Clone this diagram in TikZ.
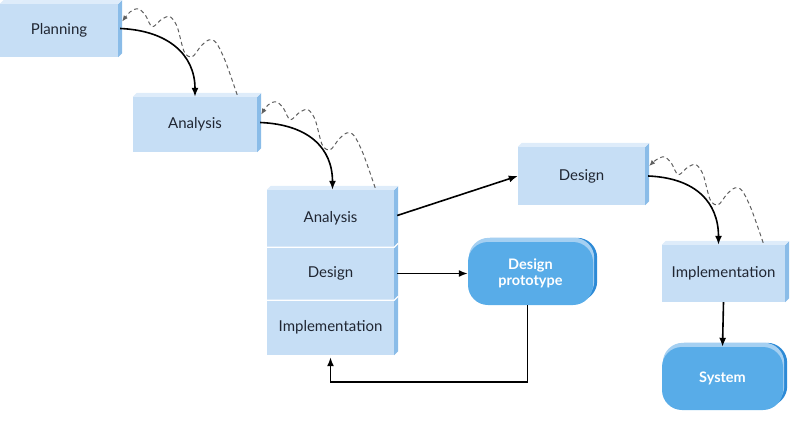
\documentclass[tikz,border=0pt]{standalone}
\usepackage{fontspec}
\setmainfont{Lato}
\usetikzlibrary{arrows.meta,calc,backgrounds}
\definecolor{boxfront}{RGB}{198,222,245}
\definecolor{boxside}{RGB}{138,188,232}
\definecolor{boxtop}{RGB}{222,236,250}
\definecolor{pillfront}{RGB}{88,172,232}
\definecolor{pillside}{RGB}{45,138,214}
\definecolor{pilltop}{RGB}{165,208,242}
\definecolor{txt}{RGB}{32,38,50}
\tikzset{
  stagebox/.style={fill=boxfront, text=txt, inner sep=0pt, font=\fontsize{15}{17}\selectfont},
  pill/.style={fill=pillfront, text=white, inner sep=0pt, rounded corners=20pt, align=center,
    font=\fontsize{14.5}{16}\selectfont\bfseries},
  flow/.style={-{Latex[length=9pt,width=7pt]}, line width=1.6pt, black},
  wavyline/.style={-{Latex[length=6pt,width=5pt]}, line width=1pt, gray!75!black, dash pattern=on 4pt off 3pt},
}
\newcommand\bevelbox[1]{%
  \fill[boxside] (#1.north east) -- ++(4,-4) -- ($(#1.south east)+(4,-4)$) -- (#1.south east) -- cycle;
  \fill[boxtop] (#1.north west) -- ++(4,-4) -- ($(#1.north east)+(4,-4)$) -- (#1.north east) -- cycle;}
\newcommand\pillshade[1]{%
  \begin{scope}[on background layer]
    \fill[pillside, rounded corners=20pt] ($(#1.south west)+(4,-4)$) rectangle ($(#1.north east)+(4,-4)$);
    \fill[pilltop, rounded corners=20pt] ($(#1.south west)+(1,-4)$) rectangle ($(#1.north east)+(1,-4)$);
  \end{scope}}
\newcommand\wavy[2]{%
  \draw[wavyline] plot[smooth, tension=0.5] coordinates {(#1) ($(#1)+(-12,-34)$) ($(#1)+(-21,-52)$)
    ($(#1)+(-28,-55)$) ($(#1)+(-36,-49)$) ($(#1)+(-45,-38)$) ($(#1)+(-53,-43)$) ($(#1)+(-60,-68)$)
    ($(#1)+(-67,-78)$) ($(#1)+(-75,-76)$) ($(#1)+(-85,-68)$) ($(#1)+(-92,-80)$) ($(#1)+(-99,-86)$)
    ($(#1)+(-107,-83)$) (#2)};}
\begin{document}
\begin{tikzpicture}[x={(1pt,0pt)}, y={(0pt,-1pt)}]
\useasboundingbox (0,0) rectangle (796,437);
% waterfall boxes
\node[stagebox, minimum width=118pt, minimum height=53pt] (pl) at (59,30.5) {Planning};
\node[stagebox, minimum width=124pt, minimum height=55pt] (an) at (195,124.5) {Analysis};
\node[stagebox, minimum width=127pt, minimum height=57pt] (ca) at (330.5,218.5) {Analysis};
\node[stagebox, minimum width=127pt, minimum height=53pt] (cd) at (330.5,273.5) {Design};
\node[stagebox, minimum width=127pt, minimum height=55pt] (ci) at (330.5,327.5) {Implementation};
\node[stagebox, minimum width=127pt, minimum height=58pt] (de) at (581.5,176) {Design};
\node[stagebox, minimum width=123pt, minimum height=57pt] (im) at (723.5,273.5) {Implementation};
\bevelbox{pl}\bevelbox{an}\bevelbox{de}\bevelbox{im}
\fill[boxside] (ca.north east) -- ++(4,-4) -- ($(ci.south east)+(4,-4)$) -- (ci.south east) -- cycle;
\fill[boxtop] (ca.north west) -- ++(4,-4) -- ($(ca.north east)+(4,-4)$) -- (ca.north east) -- cycle;
\draw[white, line width=1.2pt] (ca.south west) -- (ca.south east) -- ++(4,-4);
\draw[white, line width=1.2pt] (cd.south west) -- (cd.south east) -- ++(4,-4);
% prototype outputs
\node[pill, minimum width=125pt, minimum height=63pt] (dp) at (530.5,273.5) {Design\\prototype};
\node[pill, minimum width=121pt, minimum height=63pt] (sy) at (722.5,378.5) {System};
\pillshade{dp}\pillshade{sy}
% solid flows
\draw[flow] ($(pl.east)+(2,-2)$) .. controls +(48,2) and +(0,-42) .. (an.north);
\draw[flow] ($(an.east)+(3,-2)$) .. controls +(48,2) and +(0,-42) .. ($(ca.north)+(2,0)$);
\draw[flow] ($(de.east)+(3,0)$) .. controls +(48,2) and +(0,-42) .. ($(im.north)+(-5,0)$);
\draw[flow] ($(ca.east)+(3,-3)$) -- (de.west);
\draw[flow] ($(cd.east)+(3,0)$) -- (dp.west);
\coordinate (fb1) at ($(dp.south)+(-3,77)$);
\coordinate (fb2) at ($(ci.south)+(0,27)$);
\draw[flow] ($(dp.south)+(-3,0)$) -- (fb1) -- (fb2) -- ($(ci.south)+(0,2)$);
\draw[flow] (im.south) -- (sy.north);
% dashed feedback
\wavy{$(an.north east)+(-20,-2)$}{$(pl.east)+(4,-9)$}
\wavy{$(ca.north east)+(-19,-2)$}{$(an.east)+(4,-10)$}
\wavy{$(im.north east)+(-22,-2)$}{$(de.east)+(4,-10)$}
\end{tikzpicture}
\end{document}
